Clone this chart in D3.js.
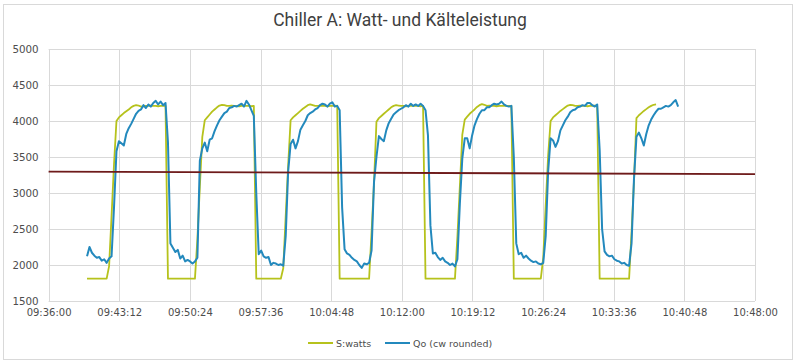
<!DOCTYPE html>
<html><head><meta charset="utf-8">
<script src="https://cdn.jsdelivr.net/npm/d3@7/dist/d3.min.js"></script>
<style>html,body{margin:0;padding:0;background:#fff;}svg{display:block;}</style>
</head><body><svg id="chart" width="800" height="364"></svg>
<script>
// ---- data ----
const title = "Chiller A: Watt- und Kälteleistung";
const seriesNames = ["S:watts", "Qo (cw rounded)"];
const sampleStart = "09:39:55";   // first logged sample
const sampleStepSec = 15;          // logging interval
const swatts = [
1810,1810,1810,1810,1810,1810,1810,1810,1810,
1985,2680,3400,4000,4050,4080,4110,4135,4160,4190,4210,4220,4215,4200,
4205,4210,4210,4215,4210,4210,4205,4210,4210,4210,
1810,1810,1810,1810,1810,1810,1810,1810,1810,1810,1810,1810,
2360,3090,3780,4010,4050,4090,4130,4160,4190,4215,4225,4220,4210,
4210,4215,4210,4210,4205,4210,4215,4210,4210,4205,4210,
1810,1810,1810,1810,1810,1810,1810,1810,1810,1810,1810,1955,
2680,3380,4010,4050,4080,4110,4140,4170,4195,4220,4230,4220,
4210,4210,4215,4210,4210,4205,4210,4210,4215,4210,
1810,1810,1810,1810,1810,1810,1810,1810,1810,1810,1810,1810,1810,
2450,3140,3990,4040,4070,4100,4130,4160,4190,4210,4220,4215,
4210,4210,4205,4210,4215,4210,4210,4210,4205,4210,
1810,1810,1810,1810,1810,1810,1810,1810,1810,1810,1810,1810,1810,
2390,3090,3810,4020,4060,4100,4130,4160,4195,4220,4235,4225,
4210,4215,4210,4210,4205,4210,4210,4215,4210,4210,4210,
1810,1810,1810,1810,1810,1810,1810,1810,1810,1810,1810,1810,2100,
2825,3520,4000,4050,4080,4110,4140,4165,4190,4215,4225,4220,
4210,4210,4215,4210,4210,4205,4210,4210,4215,4210,
1810,1810,1810,1810,1810,1810,1810,1810,1810,1810,1810,1810,1810,
2450,3170,4040,4080,4110,4140,4165,4190,4210,4225,4230
];
const qo = [
2120,2250,2170,2130,2100,2110,2060,2080,2030,2090,
2120,2800,3580,3720,3690,3660,3820,3900,3960,4030,
4100,4140,4160,4220,4180,4230,4200,4250,4280,4230,
4270,4220,4250,3700,2300,2240,2180,2210,2090,2130,
2050,2070,2050,2020,2050,2100,3450,3620,3700,3580,
3740,3760,3860,3940,4010,4060,4110,4130,4180,4190,
4210,4200,4220,4240,4200,4280,4230,4150,4070,3000,
2150,2200,2120,2100,2110,2000,2030,2020,2000,2010,
1990,2400,3300,3680,3740,3620,3720,3880,3940,4000,
4080,4110,4130,4160,4180,4220,4240,4230,4200,4240,
4260,4200,4210,4150,2800,2220,2160,2140,2100,2070,
2050,2000,1960,2020,2010,2030,2200,3150,3500,3790,
3750,3720,3870,3970,4030,4090,4120,4150,4170,4190,
4220,4200,4240,4210,4230,4210,4240,4210,4150,3800,
2550,2160,2170,2110,2070,2100,2050,2030,2000,2020,
1980,2080,2850,3480,3760,3760,3620,3800,3940,4030,
4100,4150,4150,4190,4190,4220,4240,4230,4240,4270,
4230,4210,4200,4210,3500,2300,2150,2170,2100,2130,
2090,2060,2040,2050,2020,2010,2030,2400,3300,3760,
3730,3640,3720,3870,3940,4010,4060,4120,4150,4160,
4190,4200,4220,4210,4250,4250,4220,4200,4230,3600,
2500,2190,2140,2120,2130,2080,2060,2050,2020,2030,
2000,1990,2300,3200,3780,3840,3760,3660,3820,3940,
4020,4080,4130,4170,4170,4190,4210,4200,4220,4260,
4290,4200
];
const trendTimes = ["09:36:00", "10:48:00"];
const trendValues = [3298, 3262];
const xTickLabels = ["09:36:00","09:43:12","09:50:24","09:57:36","10:04:48","10:12:00","10:19:12","10:26:24","10:33:36","10:40:48","10:48:00"];
const yTicks = [1500,2000,2500,3000,3500,4000,4500,5000];

// ---- chart ----
const parse = d3.timeParse("%H:%M:%S");
const fmt = d3.timeFormat("%H:%M:%S");
const t0 = parse(sampleStart);
const timeAt = i => new Date(t0.getTime() + i * sampleStepSec * 1000);

const svg = d3.select("#chart");
const plot = {left: 48.6, right: 755, top: 49, bottom: 301};
const x = d3.scaleTime().domain([parse(xTickLabels[0]), parse(xTickLabels[xTickLabels.length-1])]).range([plot.left, plot.right]);
const y = d3.scaleLinear().domain([1500, 5000]).range([plot.bottom, plot.top]);

svg.append("rect").attr("x", 3.5).attr("y", 4.5).attr("width", 789).attr("height", 355)
  .attr("fill", "#fff").attr("stroke", "#d9d9d9").attr("stroke-width", 1);

svg.append("text").attr("x", 400).attr("y", 26).attr("text-anchor", "middle")
  .attr("font-family", "Roboto, 'Noto Sans', sans-serif").attr("font-size", 17.5).attr("fill", "#404040")
  .text(title);

// gridlines
const grid = svg.append("g");
grid.selectAll("line.h").data(yTicks).join("line")
  .attr("x1", plot.left).attr("x2", plot.right)
  .attr("y1", d => Math.round(y(d)) + 0.5).attr("y2", d => Math.round(y(d)) + 0.5)
  .attr("stroke", "#d9d9d9").attr("stroke-width", 1);
grid.selectAll("line.v").data(xTickLabels).join("line")
  .attr("x1", d => Math.round(x(parse(d))) + 0.5).attr("x2", d => Math.round(x(parse(d))) + 0.5)
  .attr("y1", plot.top).attr("y2", plot.bottom)
  .attr("stroke", "#d9d9d9").attr("stroke-width", 1);

// axes
const yAxis = d3.axisLeft(y).tickValues(yTicks).tickSize(0).tickPadding(10).tickFormat(d3.format("d"));
const gy = svg.append("g").attr("transform", `translate(${plot.left},0)`).call(yAxis);
gy.select(".domain").remove();
gy.selectAll("text").attr("font-family", "'DejaVu Sans', sans-serif").attr("font-size", 10.3).attr("fill", "#4d4d4d");

const xAxis = d3.axisBottom(x).tickValues(xTickLabels.map(parse)).tickSize(0).tickPadding(8).tickFormat(fmt);
const gx = svg.append("g").attr("transform", `translate(0,${plot.bottom})`).call(xAxis);
gx.select(".domain").remove();
gx.selectAll("text").attr("font-family", "'DejaVu Sans', sans-serif").attr("font-size", 10).attr("fill", "#4d4d4d");

// series
const colors = ["#b6c21c", "#2389bd"];
const line = d3.line().x((d, i) => x(timeAt(i))).y(d => y(d));
svg.append("path").datum(swatts).attr("d", line).attr("fill", "none")
  .attr("stroke", colors[0]).attr("stroke-width", 1.8).attr("stroke-linejoin", "round");
svg.append("path").datum(qo).attr("d", line).attr("fill", "none")
  .attr("stroke", colors[1]).attr("stroke-width", 2).attr("stroke-linejoin", "round");

// trendline
const tline = d3.line().x(d => x(parse(d[0]))).y(d => y(d[1]));
svg.append("path").datum(trendTimes.map((t, i) => [t, trendValues[i]])).attr("d", tline)
  .attr("fill", "none").attr("stroke", "#6e1a1a").attr("stroke-width", 1.8);

// legend
const legendItems = [{name: seriesNames[0], x: 308, color: colors[0]}, {name: seriesNames[1], x: 385, color: colors[1]}];
const lg = svg.append("g");
legendItems.forEach(it => {
  lg.append("line").attr("x1", it.x).attr("x2", it.x + 25).attr("y1", 343).attr("y2", 343)
    .attr("stroke", it.color).attr("stroke-width", 2);
  lg.append("text").attr("x", it.x + 28).attr("y", 346.5)
    .attr("font-family", "'DejaVu Sans', sans-serif").attr("font-size", 9.5).attr("fill", "#4d4d4d")
    .text(it.name);
});
</script></body></html>
